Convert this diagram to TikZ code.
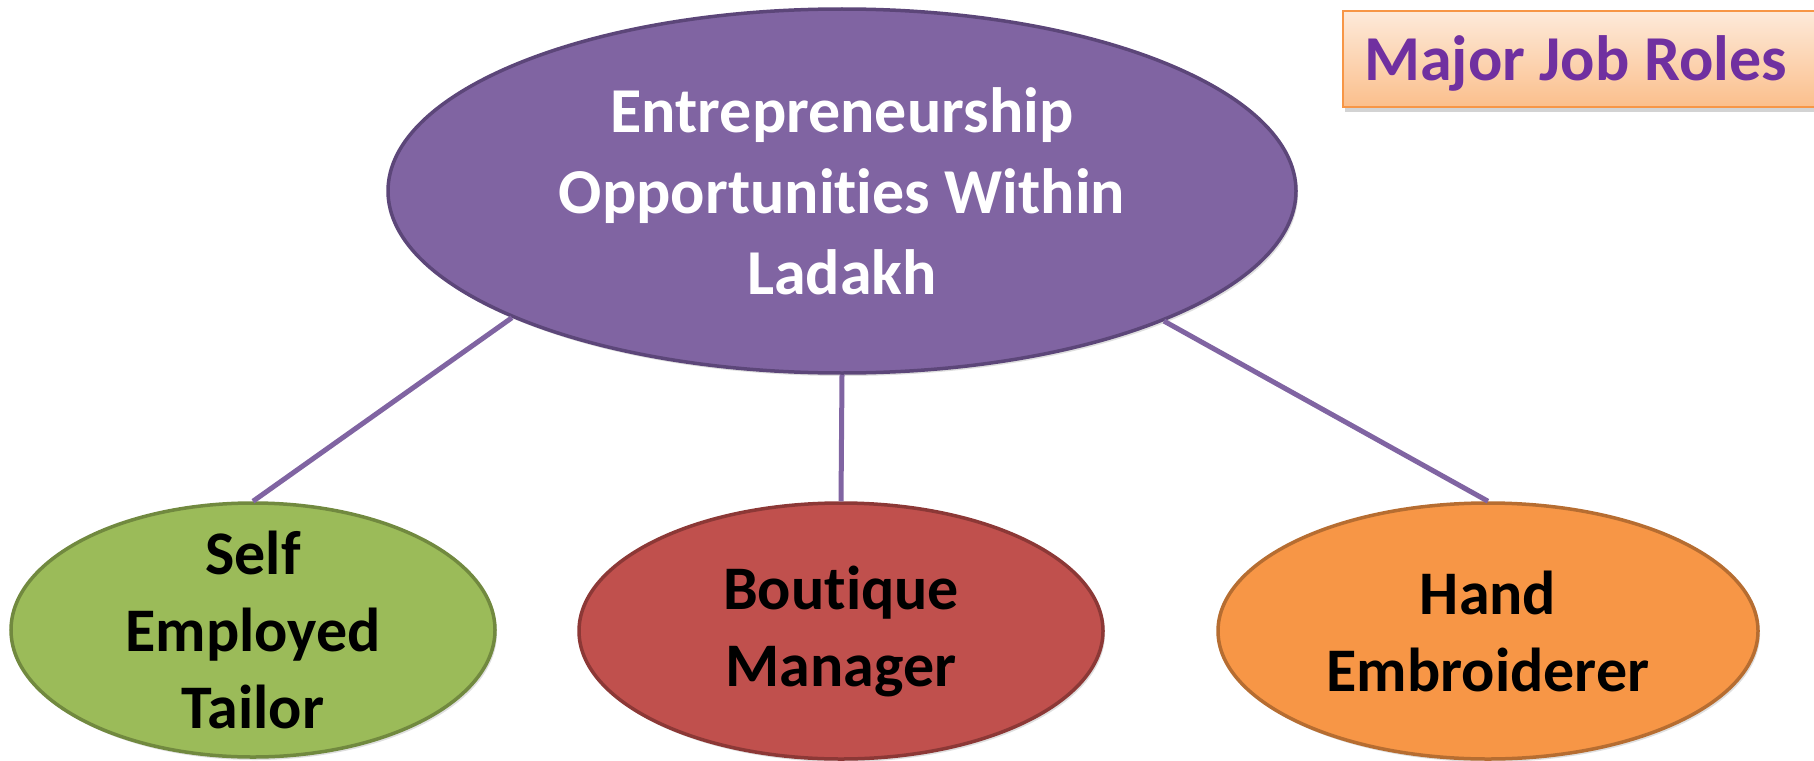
\documentclass[tikz,border=0pt]{standalone}
\usepackage{fontspec}
\setmainfont{Carlito}[RawFeature={-liga}]
\usetikzlibrary{shapes.geometric,shadows}
\definecolor{purpfill}{HTML}{8064A2}
\definecolor{purpdraw}{HTML}{5C4679}
\definecolor{grnfill}{HTML}{9BBB59}
\definecolor{grndraw}{HTML}{71893F}
\definecolor{redfill}{HTML}{C0504D}
\definecolor{reddraw}{HTML}{8C3836}
\definecolor{orgfill}{HTML}{F79646}
\definecolor{orgdraw}{HTML}{B66D31}
\definecolor{titlepurple}{HTML}{7030A0}
\definecolor{boxtop}{HTML}{FDEADA}
\definecolor{boxbot}{HTML}{FBBF8C}
\tikzset{
  oval/.style={ellipse, inner sep=0pt, line width=3.5pt,
    drop shadow={opacity=0.25, shadow xshift=2pt, shadow yshift=-3pt}},
  ovaltext/.style={align=center, inner sep=0pt, font=\bfseries\fontsize{62}{77}\selectfont},
  topoval/.style={oval, fill=purpfill, draw=purpdraw},
  greenoval/.style={oval, fill=grnfill, draw=grndraw},
  redoval/.style={oval, fill=redfill, draw=reddraw},
  orangeoval/.style={oval, fill=orgfill, draw=orgdraw},
  link/.style={draw=purpfill, line width=5pt},
  jobbox/.style={draw=orgfill, line width=2pt, top color=boxtop, bottom color=boxbot,
    inner sep=0pt,
    drop shadow={opacity=0.35, shadow xshift=2pt, shadow yshift=-5pt}},
  jobtext/.style={text=titlepurple, inner sep=0pt, font=\bfseries\fontsize{64}{70}\selectfont}
}
\begin{document}
\begin{tikzpicture}[x=1pt,y=-1pt]
\useasboundingbox (0,0) rectangle (1814,760);
\clip (0,0) rectangle (1814,760);
\node[topoval, minimum width=908pt, minimum height=364pt] (top) at (842,191) {};
\node[greenoval, minimum width=484pt, minimum height=254pt] (left) at (253,630) {};
\node[redoval, minimum width=524pt, minimum height=256pt] (mid) at (841,631) {};
\node[orangeoval, minimum width=540pt, minimum height=256pt] (right) at (1488,631) {};
\draw[link] (top.201.8) -- (left.north);
\draw[link] (top.south) -- (mid.north);
\draw[link] (top.338.2) -- (right.north);
\node[ovaltext, text=white, font=\bfseries\fontsize{64}{81}\selectfont] (toptext) at (top.center)
  {Entrepreneurship\\Opportunities Within\\Ladakh};
\node[ovaltext] (lefttext) at (left.center) {Self\\Employed\\Tailor};
\node[ovaltext] (midtext) at (mid.center) {Boutique\\Manager};
\node[ovaltext] (righttext) at (right.center) {Hand\\Embroiderer};
\node[jobbox, anchor=west, minimum height=96pt, minimum width=540pt] (roles) at (1342,59) {};
\node[jobtext, anchor=base west] (rolestext) at (1364,80) {Major Job Roles};
\end{tikzpicture}
\end{document}
